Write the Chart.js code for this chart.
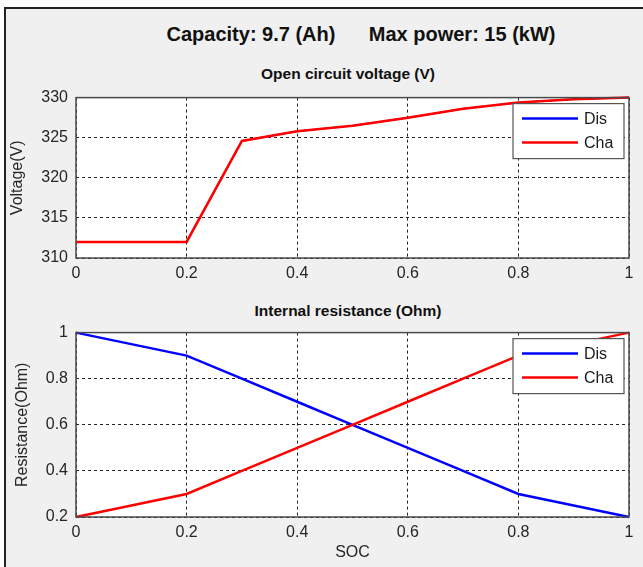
<!DOCTYPE html>
<html>
<head>
<meta charset="utf-8">
<script src="https://cdn.jsdelivr.net/npm/chart.js@4"></script>
<style>
  body { margin: 0; background: #fff; font-family: "Liberation Sans", Arial, sans-serif; }
  #panel {
    position: absolute; left: 4px; top: 7px; width: 639px; height: 560px;
    background: #f0f0f0; border-left: 2px solid #222; border-top: 2px solid #222;
  }
  .label { position: absolute; font-weight: bold; color: #111; white-space: pre; transform: translate(-50%, -50%); }
  #suptitle { left: 361px; top: 34px; font-size: 20px; }
  #title1 { left: 348px; top: 74px; font-size: 15.5px; }
  #title2 { left: 348px; top: 311px; font-size: 15.5px; }
  canvas { position: absolute; left: 0; }
  #wrap1 { position: absolute; left: 0; top: 80px; width: 643px; height: 210px; }
  #wrap2 { position: absolute; left: 0; top: 315px; width: 643px; height: 252px; }
</style>
</head>
<body>
<div id="panel"></div>
<div class="label" id="suptitle">Capacity: 9.7 (Ah)      Max power: 15 (kW)</div>
<div class="label" id="title1">Open circuit voltage (V)</div>
<div class="label" id="title2">Internal resistance (Ohm)</div>
<div id="wrap1"><canvas id="ocvChart"></canvas></div>
<div id="wrap2"><canvas id="resChart"></canvas></div>
<script>
const soc = [0, 0.1, 0.2, 0.3, 0.4, 0.5, 0.6, 0.7, 0.8, 0.9, 1]
const ocvDis = [312, 312, 312, 324.6, 325.8, 326.5, 327.5, 328.6, 329.4, 329.8, 330]
const ocvCha = [312, 312, 312, 324.6, 325.8, 326.5, 327.5, 328.6, 329.4, 329.8, 330]
const resDis = [1, 0.95, 0.9, 0.8, 0.7, 0.6, 0.5, 0.4, 0.3, 0.25, 0.2]
const resCha = [0.2, 0.25, 0.3, 0.4, 0.5, 0.6, 0.7, 0.8, 0.9, 0.95, 1]
const socTicks = [0, 0.2, 0.4, 0.6, 0.8, 1]
const ocvTicks = [310, 315, 320, 325, 330]
const resTicks = [0.2, 0.4, 0.6, 0.8, 1]

const textColor = '#262626'
const tickFont = { family: '"Liberation Sans", Arial, sans-serif', size: 16 }

const toPoints = (ys) => soc.map((x, i) => ({ x: x, y: ys[i] }))
const fmt = (v) => String(+v.toFixed(2))

// white axes background, box and MATLAB-style legend
const axesBox = {
    id: 'axesBox',
    beforeDraw(chart) {
        const a = chart.chartArea
        const c = chart.ctx
        c.save()
        c.fillStyle = '#fff'
        c.fillRect(a.left, a.top, a.right - a.left, a.bottom - a.top)
        c.restore()
    },
    afterDraw(chart) {
        const a = chart.chartArea
        const c = chart.ctx
        c.save()
        c.strokeStyle = '#4a4a4a'
        c.lineWidth = 1.5
        c.strokeRect(a.left, a.top, a.right - a.left, a.bottom - a.top)

        const w = 111, h = 55
        const x = a.right - 5 - w
        const y = a.top + 6
        c.fillStyle = '#fff'
        c.fillRect(x, y, w, h)
        c.strokeStyle = '#555'
        c.lineWidth = 1.2
        c.strokeRect(x, y, w, h)
        c.font = '16px "Liberation Sans", Arial, sans-serif'
        c.textBaseline = 'middle'
        chart.data.datasets.forEach((ds, i) => {
            const ly = y + 15 + i * 24
            c.strokeStyle = ds.borderColor
            c.lineWidth = 2.5
            c.beginPath()
            c.moveTo(x + 9, ly)
            c.lineTo(x + 65, ly)
            c.stroke()
            c.fillStyle = '#1a1a1a'
            c.fillText(ds.label, x + 71, ly + 1)
        })
        c.restore()
    }
}

const makeChart = (id, dis, cha, yMin, yMax, yTicks, yTitle, xTitle, xHeight, yTitlePad, disWidth) => {
    return new Chart(document.getElementById(id), {
        type: 'line',
        data: {
            datasets: [
                { label: 'Dis', data: toPoints(dis), borderColor: '#0000ff', borderWidth: disWidth, order: 1 },
                { label: 'Cha', data: toPoints(cha), borderColor: '#ff0000', order: 0 }
            ]
        },
        options: {
            responsive: true,
            maintainAspectRatio: false,
            animation: false,
            layout: { padding: { top: 15, right: 14, left: 0, bottom: 0 } },
            elements: {
                line: { borderWidth: 2.5, tension: 0 },
                point: { radius: 0 }
            },
            datasets: { line: { clip: false } },
            plugins: { legend: { display: false }, tooltip: { enabled: false } },
            scales: {
                x: {
                    type: 'linear',
                    min: 0,
                    max: 1,
                    afterBuildTicks: (s) => { s.ticks = socTicks.map(v => ({ value: v })) },
                    afterFit: (s) => { s.height = xHeight },
                    ticks: { font: tickFont, color: textColor, padding: 6, maxRotation: 0, callback: fmt },
                    grid: { color: '#222', lineWidth: 1, drawTicks: false },
                    border: { display: false, dash: [3, 3] },
                    title: {
                        display: !!xTitle, text: xTitle, color: textColor,
                        font: tickFont, padding: { top: 0, bottom: 5 }
                    }
                },
                y: {
                    min: yMin,
                    max: yMax,
                    afterBuildTicks: (s) => { s.ticks = yTicks.map(v => ({ value: v })) },
                    afterFit: (s) => { s.width = 76 },
                    ticks: { font: tickFont, color: textColor, padding: 8, callback: fmt },
                    grid: { color: '#222', lineWidth: 1, drawTicks: false },
                    border: { display: false, dash: [3, 3] },
                    title: {
                        display: true, text: yTitle, color: textColor,
                        font: tickFont, padding: { top: yTitlePad, bottom: 0 }
                    }
                }
            }
        },
        plugins: [axesBox]
    })
}

// Dis runs under Cha on the voltage plot, so keep it a touch thinner there
const ocvChart = makeChart('ocvChart', ocvDis, ocvCha, 310, 330, ocvTicks, 'Voltage(V)', '', 32, 8, 1.5)
const resChart = makeChart('resChart', resDis, resCha, 0.2, 1, resTicks, 'Resistance(Ohm)', 'SOC', 50, 13, 2.5)
</script>
</body>
</html>
